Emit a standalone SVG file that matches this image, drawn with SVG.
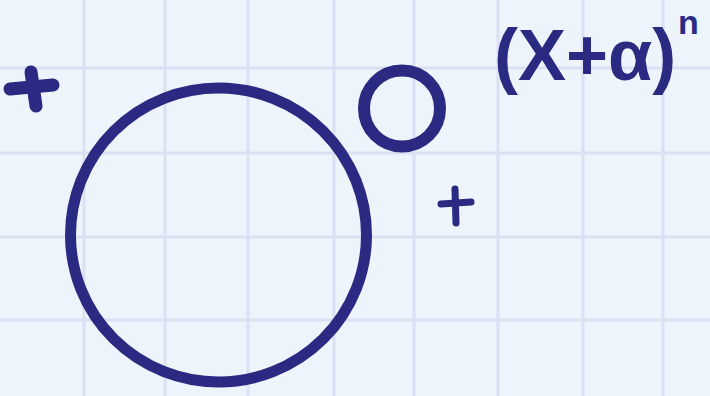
<svg xmlns="http://www.w3.org/2000/svg" width="710" height="396" viewBox="0 0 710 396">
<style>
.grid{stroke:#dbe0f2;stroke-width:3;fill:none}
.ink{stroke:#2a2a82;fill:none;stroke-linecap:round}
.txt{fill:#2a2a82;font-family:"Liberation Sans","DejaVu Sans",sans-serif;font-weight:bold}
</style>
<rect width="710" height="396" fill="#edf4fc"/>
<g id="grid" class="grid">
<line x1="84" y1="0" x2="84" y2="396"/>
<line x1="165" y1="0" x2="165" y2="396"/>
<line x1="248" y1="0" x2="248" y2="396"/>
<line x1="334" y1="0" x2="334" y2="396"/>
<line x1="414" y1="0" x2="414" y2="396"/>
<line x1="498" y1="0" x2="498" y2="396"/>
<line x1="583" y1="0" x2="583" y2="396"/>
<line x1="663" y1="0" x2="663" y2="396"/>
<line x1="0" y1="68" x2="710" y2="68"/>
<line x1="0" y1="153" x2="710" y2="153"/>
<line x1="0" y1="237" x2="710" y2="237"/>
<line x1="0" y1="320" x2="710" y2="320"/>
</g>
<g id="big-circle"><ellipse class="ink" cx="218.5" cy="235" rx="148" ry="147" stroke-width="11"/></g>
<g id="small-circle"><circle class="ink" cx="402" cy="108.5" r="38" stroke-width="12"/></g>
<g id="plus-left" class="ink" stroke-width="13">
<line x1="10" y1="89" x2="53" y2="85"/>
<line x1="31" y1="72" x2="36" y2="106"/>
</g>
<g id="plus-right" class="ink" stroke-width="7">
<line x1="441" y1="204" x2="471" y2="202"/>
<line x1="455" y1="189" x2="456" y2="223"/>
</g>
<g id="formula">
<text class="txt" x="494" y="80" font-size="72">(X+α)</text>
<text class="txt" x="678" y="34" font-size="34">n</text>
</g>
</svg>
